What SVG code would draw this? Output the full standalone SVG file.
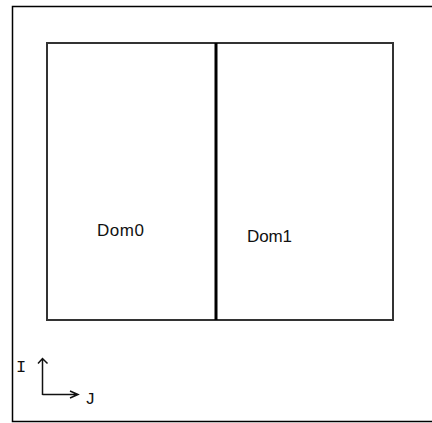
<svg xmlns="http://www.w3.org/2000/svg" width="432" height="423" viewBox="0 0 432 423">
<style>
.frame{fill:none;stroke:#000;stroke-width:1.5}
.dom{fill:#fff;stroke:#333;stroke-width:2}
.lbl{font-family:"Liberation Sans",Arial,sans-serif;font-size:17px;fill:#111}
.axis{font-family:"Liberation Mono","Courier New",monospace;font-size:17px;fill:#111}
.ax{fill:none;stroke:#111;stroke-width:1.5}
</style>
<rect width="432" height="423" fill="#fff"/>
<path class="frame" d="M440,6.5 H12.5 V421.5 H440"/>
<g id="dom0">
<rect class="dom" x="47" y="43" width="169" height="277"/>
<text class="lbl" x="97" y="236" textLength="47">Dom0</text>
</g>
<g id="dom1">
<rect class="dom" x="216" y="43" width="177" height="277"/>
<text class="lbl" x="247" y="242" textLength="45">Dom1</text>
</g>
<g id="connectors">
<line x1="216" y1="43" x2="216" y2="320" stroke="#000" stroke-width="3"/>
</g>
<g id="axes">
<path class="ax" d="M42.5,395 V358.5 M38,363.5 L42.5,358.5 L47.5,363.5 M42.5,394.5 H78 M70,391 L78,394.5 L70,398"/>
<text class="axis" x="16" y="372">I</text>
<text class="axis" x="85" y="404">J</text>
</g>
</svg>
